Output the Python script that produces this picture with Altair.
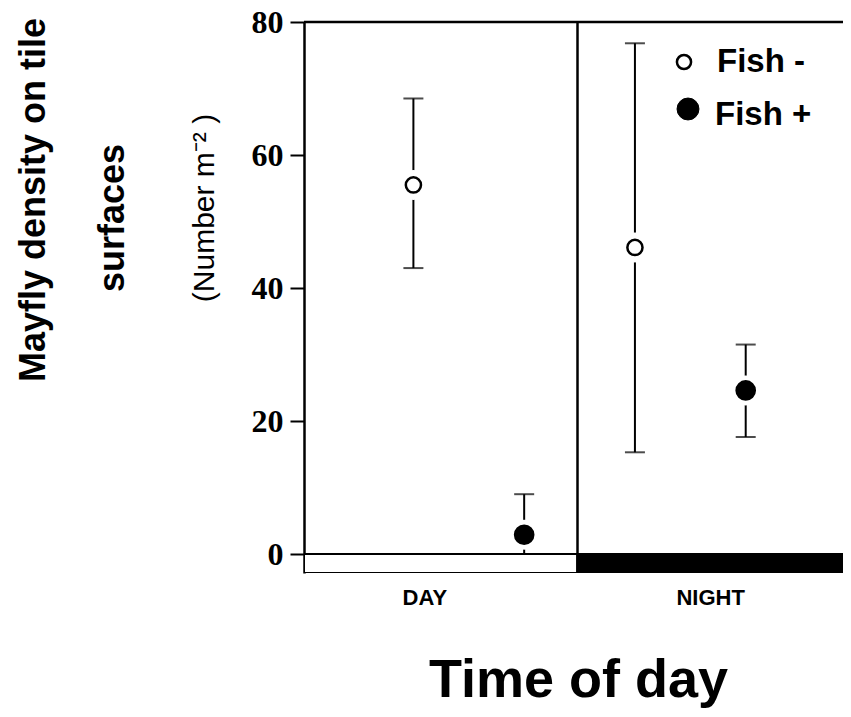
import altair as alt
import pandas as pd

# ---- data ----
periods = ["DAY", "NIGHT"]
groups = ["Fish -", "Fish +"]
period_col = ["DAY", "DAY", "NIGHT", "NIGHT"]
group_col = ["Fish -", "Fish +", "Fish -", "Fish +"]
means = [55.5, 2.9, 46.1, 24.6]
lowers = [43.0, -3.2, 15.3, 17.6]
uppers = [68.5, 9.0, 76.8, 31.5]
y_ticks = [0, 20, 40, 60, 80]
y_title_lines = ["Mayfly density on tile", "surfaces"]
y_unit = "(Number m\u207b\u00b2 )"
x_title = "Time of day"

df = pd.DataFrame(dict(period=period_col, group=group_col,
                       mean=means, lo=lowers, hi=uppers))
# dodge positions along a continuous x: period slot + group offset
df["pos"] = [0.40 + 0.81 * periods.index(p) + 0.405 * groups.index(g)
             for p, g in zip(period_col, group_col)]

bands = pd.DataFrame({"period": periods,
                      "start": [float(i) for i in range(len(periods))],
                      "end": [float(i + 1) for i in range(len(periods))]})

YMIN, YMAX = -2.85, 80
W, H = 539, 551
TOP = 14
xscale = alt.Scale(domain=[0, W / 273.5], nice=False, zero=False)
yscale = alt.Scale(domain=[YMIN, YMAX], nice=False, zero=False)

x_axis = alt.Axis(
    values=[0.44, 1.485],
    labelExpr=f"datum.value < 1 ? '{periods[0]}' : '{periods[1]}'",
    domain=False, ticks=False, tickSize=0, grid=False,
    labelFont="Liberation Sans", labelFontWeight="bold", labelFontSize=22,
    labelColor="black", labelPadding=14, labelFlush=False,
    title=x_title, titleFont="Liberation Sans", titleFontWeight="bold",
    titleFontSize=54, titleColor="black", titleX=274, titleY=123,
    titleAlign="center", titleBaseline="alphabetic", titleAnchor=None,
)
y_axis = alt.Axis(
    values=y_ticks, format="d", grid=False,
    domain=True, domainColor="black", domainWidth=2.5,
    ticks=True, tickSize=14, tickWidth=2, tickColor="black",
    labelFont="Liberation Serif", labelFontWeight="bold", labelFontSize=32,
    labelColor="black", labelPadding=7, title=None,
)

base = alt.Chart(df)

err = base.mark_rule(color="black", strokeWidth=2, clip=True).encode(
    x=alt.X("pos:Q", scale=xscale, axis=x_axis),
    y=alt.Y("lo:Q", scale=yscale, axis=y_axis),
    y2="hi:Q",
)
cap_hi = base.mark_tick(orient="horizontal", size=20, thickness=2,
                        color="black", clip=True).encode(
    x="pos:Q", y="hi:Q")
cap_lo = base.mark_tick(orient="horizontal", size=20, thickness=2,
                        color="black", clip=True).encode(
    x="pos:Q", y="lo:Q")

halo = base.mark_circle(color="white", opacity=1, size=900).encode(
    x="pos:Q", y="mean:Q")

pts = base.mark_circle(stroke="black", strokeWidth=2.5, opacity=1).encode(
    x="pos:Q", y="mean:Q",
    fill=alt.Fill("group:N", scale=alt.Scale(domain=groups, range=["white", "black"]), legend=None),
    size=alt.Size("group:N", scale=alt.Scale(domain=groups, range=[230, 330]), legend=None),
)

band = alt.Chart(bands).mark_rect(stroke="black", strokeWidth=2, clip=True).encode(
    x="start:Q", x2="end:Q",
    y=alt.datum(YMIN), y2=alt.datum(0),
    fill=alt.Fill("period:N", scale=alt.Scale(domain=periods, range=["white", "black"]), legend=None),
)

divider = alt.Chart(bands.iloc[[1]]).mark_rule(color="black", strokeWidth=2.5).encode(
    x="start:Q")
top = alt.Chart(pd.DataFrame({"v": [YMAX]})).mark_rule(color="black", strokeWidth=2.5).encode(
    y="v:Q")

# legend drawn inside the plot (pixel offsets from the plot's top-left)
dy = 12 - TOP
leg_df = pd.DataFrame({"group": groups})
leg_sym1 = alt.Chart(leg_df).transform_filter(alt.datum.group == groups[0]).mark_circle(
    fill="white", stroke="black", strokeWidth=2.5, opacity=1, size=200).encode(
    x=alt.value(380), y=alt.value(42 + dy))
leg_sym2 = alt.Chart(leg_df).transform_filter(alt.datum.group == groups[1]).mark_circle(
    fill="black", stroke="black", strokeWidth=1, opacity=1, size=480).encode(
    x=alt.value(384), y=alt.value(89 + dy))
leg_txt1 = alt.Chart(leg_df).transform_filter(alt.datum.group == groups[0]).mark_text(
    font="Liberation Sans", fontWeight="bold", fontSize=33, align="left",
    baseline="alphabetic", color="black").encode(
    x=alt.value(413), y=alt.value(52 + dy), text="group:N")
leg_txt2 = alt.Chart(leg_df).transform_filter(alt.datum.group == groups[1]).mark_text(
    font="Liberation Sans", fontWeight="bold", fontSize=33, align="left",
    baseline="alphabetic", color="black").encode(
    x=alt.value(411), y=alt.value(105 + dy), text="group:N")

# rotated y titles
t_df = pd.DataFrame({"t1": [y_title_lines[0]], "t2": [y_title_lines[1]], "u": [y_unit]})
ytitle1 = alt.Chart(t_df).mark_text(
    font="Liberation Sans", fontWeight="bold", fontSize=36, angle=270,
    align="center", baseline="middle", color="black").encode(
    x=alt.value(-270), y=alt.value(180 + dy), text="t1:N")
ytitle2 = alt.Chart(t_df).mark_text(
    font="Liberation Sans", fontWeight="bold", fontSize=36, angle=270,
    align="center", baseline="middle", color="black").encode(
    x=alt.value(-191), y=alt.value(198 + dy), text="t2:N")
yunit = alt.Chart(t_df).mark_text(
    font="Liberation Sans", fontSize=30, angle=270,
    align="center", baseline="middle", color="black").encode(
    x=alt.value(-99), y=alt.value(188 + dy), text="u:N")

chart = alt.layer(
    err, cap_hi, cap_lo, band, divider, top, halo, pts,
    leg_sym1, leg_sym2, leg_txt1, leg_txt2, ytitle1, ytitle2, yunit,
).properties(
    width=W, height=H,
    autosize=alt.AutoSizeParams(type="none"),
    padding={"left": 296, "top": TOP, "right": 0, "bottom": 136},
    background="white",
).configure_view(stroke=None)

chart.save("out.html", embed_options={"renderer": "svg", "actions": False})
